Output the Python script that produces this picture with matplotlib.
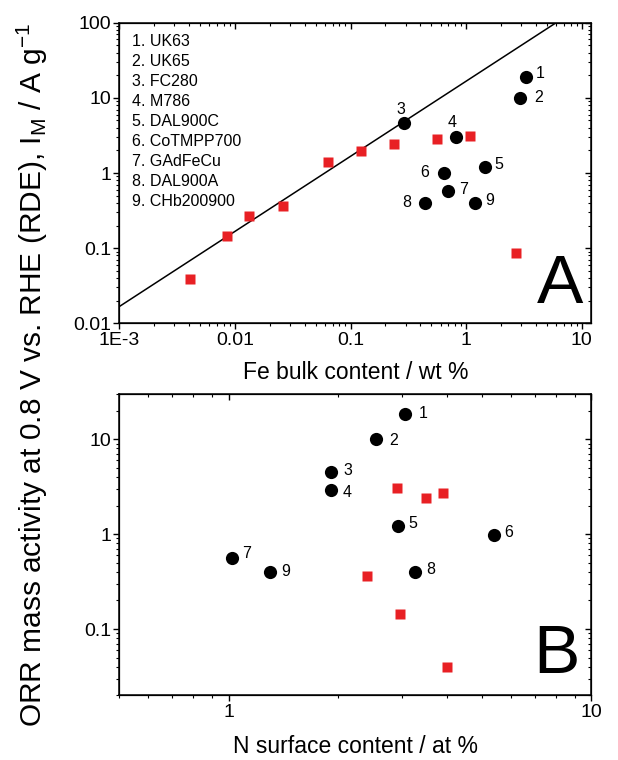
import numpy as np
import matplotlib
matplotlib.use("Agg")
from matplotlib import pyplot as plt
from matplotlib.ticker import FixedLocator, LogLocator, NullFormatter

plt.rcParams['font.family'] = ['Liberation Sans', 'DejaVu Sans']
plt.rcParams['mathtext.default'] = 'regular'

# Panel A: Fe bulk content vs mass activity
fe_black = [3.32, 2.9, 0.289, 0.81, 1.44, 0.64, 0.69, 0.44, 1.2]
im_black_a = [18.8, 10.0, 4.6, 3.0, 1.22, 1.0, 0.57, 0.40, 0.40]
fe_red = [0.0041, 0.0085, 0.0132, 0.026, 0.064, 0.124, 0.238, 0.557, 1.08, 2.67]
im_red_a = [0.039, 0.143, 0.269, 0.362, 1.42, 1.99, 2.44, 2.81, 3.11, 0.0857]
fit_prefactor = 16.7   # I_M = k * Fe
fit_slope = 1.0

# Panel B: N surface content vs mass activity
n_black = [3.07, 2.55, 1.91, 1.91, 2.94, 5.38, 1.02, 3.27, 1.30]
im_black_b = [18.4, 9.95, 4.54, 2.92, 1.22, 0.98, 0.56, 0.40, 0.40]
n_red = [2.91, 3.51, 3.91, 2.40, 2.96, 4.0]
im_red_b = [3.09, 2.41, 2.74, 0.359, 0.143, 0.0394]

sample_names = ['UK63', 'UK65', 'FC280', 'M786', 'DAL900C', 'CoTMPP700',
                'GAdFeCu', 'DAL900A', 'CHb200900']
labels_a_offset = [(10, 2.4), (13.9, 0), (-2.5, 10), (-2.7, 10.5), (10.3, 1.7),
                   (-13.7, 0.3), (11.2, 1.4), (-13, 0), (10.3, 2)]
labels_b_offset = [(13.2, 0.5), (12.5, -0.5), (12.5, 1.2), (12.2, -2), (10.4, 1.4),
                   (10.8, 1.7), (10.8, 2.9), (11.3, 1.4), (11.3, 0)]

xticks_a = [1e-3, 0.01, 0.1, 1, 10]
xticklabels_a = ['1E-3', '0.01', '0.1', '1', '10']
yticks_a = [0.01, 0.1, 1, 10, 100]
yticklabels_a = ['0.01', '0.1', '1', '10', '100']
xticks_b = [1, 10]
xticklabels_b = ['1', '10']
yticks_b = [0.1, 1, 10]
yticklabels_b = ['0.1', '1', '10']

red = '#e82024'

fig = plt.figure(figsize=(6.18, 7.60), dpi=100)
ax_a = fig.add_axes([0.193, 0.5746, 0.764, 0.3955])
ax_b = fig.add_axes([0.193, 0.0851, 0.764, 0.3965])


def style_axis(ax, xlim, ylim, xt, xtl, yt, ytl):
    ax.set_xscale('log')
    ax.set_yscale('log')
    ax.set_xlim(*xlim)
    ax.set_ylim(*ylim)
    ax.xaxis.set_major_locator(FixedLocator(xt))
    ax.set_xticklabels(xtl)
    ax.yaxis.set_major_locator(FixedLocator(yt))
    ax.set_yticklabels(ytl)
    for axis in (ax.xaxis, ax.yaxis):
        axis.set_minor_locator(LogLocator(base=10, subs=np.arange(2, 10), numticks=20))
        axis.set_minor_formatter(NullFormatter())
    ax.tick_params(which='major', direction='out', length=4, width=1, labelsize=14, pad=2)
    ax.tick_params(which='minor', direction='out', length=2.2, width=0.8)
    for s in ax.spines.values():
        s.set_linewidth(1.1)
    # mirrored ticks pointing inwards on top and right
    tx = ax.twiny()
    tx.set_xscale('log')
    tx.set_xlim(*xlim)
    tx.xaxis.set_major_locator(FixedLocator(xt))
    tx.xaxis.set_minor_locator(LogLocator(base=10, subs=np.arange(2, 10), numticks=20))
    tx.tick_params(which='major', direction='in', length=4, width=1, labeltop=False)
    tx.tick_params(which='minor', direction='in', length=2.2, width=0.8)
    tx.xaxis.set_minor_formatter(NullFormatter())
    ty = ax.twinx()
    ty.set_yscale('log')
    ty.set_ylim(*ylim)
    ty.yaxis.set_major_locator(FixedLocator(yt))
    ty.yaxis.set_minor_locator(LogLocator(base=10, subs=np.arange(2, 10), numticks=20))
    ty.tick_params(which='major', direction='in', length=4, width=1, labelright=False)
    ty.tick_params(which='minor', direction='in', length=2.2, width=0.8)
    ty.yaxis.set_minor_formatter(NullFormatter())
    ax.set_zorder(tx.get_zorder() + 2)
    ax.patch.set_visible(False)


style_axis(ax_a, (1e-3, 12.1), (0.01, 100), xticks_a, xticklabels_a, yticks_a, yticklabels_a)
style_axis(ax_b, (0.5, 10), (0.02, 30), xticks_b, xticklabels_b, yticks_b, yticklabels_b)

# fit line in panel A
xfit = np.logspace(-3, 1.1, 50)
ax_a.plot(xfit, fit_prefactor * xfit ** fit_slope, color='black', lw=1.1)

ax_a.plot(fe_red, im_red_a, 's', color=red, ms=7, mec='none', clip_on=False)
ax_a.plot(fe_black, im_black_a, 'o', color='black', ms=9.5, mec='none', clip_on=False)
for i, (x, y) in enumerate(zip(fe_black, im_black_a)):
    dx, dy = labels_a_offset[i]
    ax_a.annotate(str(i + 1), (x, y), xytext=(dx, dy), textcoords='offset points',
                  ha='center', va='center', fontsize=11.5)

legend_text = '\n'.join(f'{i + 1}. {n}' for i, n in enumerate(sample_names))
ax_a.text(0.027, 0.962, legend_text, transform=ax_a.transAxes, ha='left', va='top',
          fontsize=11.5, linespacing=1.41)
ax_a.text(0.983, 0.02, 'A', transform=ax_a.transAxes, ha='right', va='bottom', fontsize=50)
ax_a.set_xlabel('Fe bulk content / wt %', fontsize=16.5, labelpad=9)

ax_b.plot(n_red, im_red_b, 's', color=red, ms=7, mec='none', clip_on=False)
ax_b.plot(n_black, im_black_b, 'o', color='black', ms=9.5, mec='none', clip_on=False)
for i, (x, y) in enumerate(zip(n_black, im_black_b)):
    dx, dy = labels_b_offset[i]
    ax_b.annotate(str(i + 1), (x, y), xytext=(dx, dy), textcoords='offset points',
                  ha='center', va='center', fontsize=11.5)
ax_b.text(0.975, 0.027, 'B', transform=ax_b.transAxes, ha='right', va='bottom', fontsize=50)
ax_b.set_xlabel('N surface content / at %', fontsize=16.5, labelpad=10.5)

fig.text(0.052, 0.507, 'ORR mass activity at 0.8 V vs. RHE (RDE), I$_M$ / A g$^{-1}$',
         rotation=90, ha='center', va='center', fontsize=21.5)

fig.savefig('out.png', dpi=100)
